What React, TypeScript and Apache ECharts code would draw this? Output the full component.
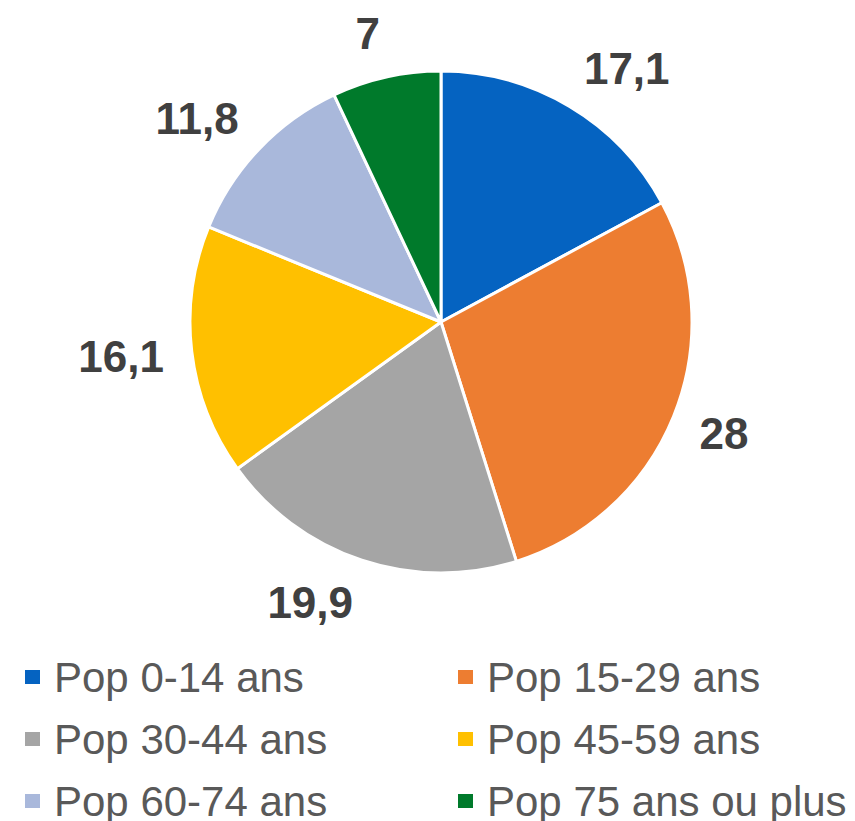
import React, { useEffect, useRef } from "react";
import * as echarts from "echarts";

const categories = [
  "Pop 0-14 ans",
  "Pop 15-29 ans",
  "Pop 30-44 ans",
  "Pop 45-59 ans",
  "Pop 60-74 ans",
  "Pop 75 ans ou plus",
];
const values = [17.1, 28, 19.9, 16.1, 11.8, 7];
const colors = ["#0563C1", "#ED7D31", "#A5A5A5", "#FFC000", "#A9B8DB", "#007A2B"];

const FONT = "Arial, 'Liberation Sans', Helvetica, sans-serif";

export default function App() {
  const ref = useRef<HTMLDivElement>(null);
  useEffect(() => {
    if (!ref.current) return;
    const chart = echarts.init(ref.current, undefined, { renderer: "svg" });
    const legendCommon = {
      orient: "vertical" as const,
      top: 656,
      height: 220,
      padding: 0,
      icon: "rect",
      itemWidth: 17,
      itemHeight: 16,
      itemGap: 20,
      selectedMode: false,
      textStyle: {
        fontSize: 42,
        color: "#595959",
        fontFamily: FONT,
        padding: [0, 0, 0, 8],
      },
    };
    chart.setOption({
      animation: false,
      color: colors,
      legend: [
        { ...legendCommon, left: 23, data: [categories[0], categories[2], categories[4]] },
        { ...legendCommon, left: 456, data: [categories[1], categories[3], categories[5]] },
      ],
      series: [
        {
          type: "pie",
          center: [441, 322],
          radius: 251,
          startAngle: 90,
          clockwise: true,
          avoidLabelOverlap: false,
          itemStyle: { borderColor: "#ffffff", borderWidth: 3 },
          data: categories.map((name, i) => ({ name, value: values[i] })),
          label: {
            show: true,
            position: "outside",
            formatter: (p: any) => String(p.value).replace(".", ","),
            fontSize: 44,
            fontWeight: "bold",
            color: "#404040",
            fontFamily: FONT,
          },
          labelLine: { show: true, length: 30, length2: 0, lineStyle: { width: 0, opacity: 0 } },
          labelLayout: (params: any) => {
            const pts = params.labelLinePoints;
            if (!pts || pts.length < 2) return {};
            const p0 = pts[0];
            const p1 = pts[1];
            let dx = p1[0] - p0[0];
            let dy = p1[1] - p0[1];
            const len = Math.hypot(dx, dy) || 1;
            dx /= len;
            dy /= len;
            const w = params.labelRect.width;
            const h = params.labelRect.height;
            const gap = 28;
            return {
              x: p0[0] + dx * gap + Math.sign(dx) * w / 2,
              y: p0[1] + dy * gap + dy * h * 0.38,
              align: "center",
              verticalAlign: "middle",
            };
          },
        },
      ],
    });
    return () => chart.dispose();
  }, []);
  return (
    <div
      ref={ref}
      style={{ position: "absolute", left: 0, top: 0, width: 855, height: 821 }}
    />
  );
}
